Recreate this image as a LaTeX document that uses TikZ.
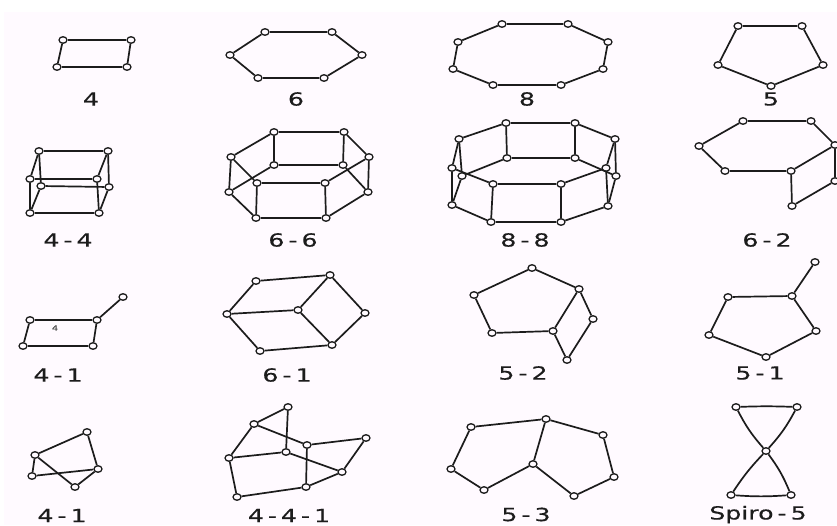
\documentclass[tikz,border=0pt]{standalone}
\usepackage{fontspec}
\usetikzlibrary{shapes.geometric}
\newfontfamily\labfont[FakeStretch=1.4,FakeBold=0.4]{DejaVu Sans}
\definecolor{paper}{HTML}{FFFAFF}
\definecolor{ink}{HTML}{1C1C1C}
\tikzset{
  v/.style={ellipse,draw=ink,fill=paper,line width=1.3pt,minimum width=8pt,minimum height=6.5pt,inner sep=0pt},
  e/.style={draw=ink,line width=1.7pt},
  lab/.style={font=\labfont\fontsize{18}{18}\selectfont,text=ink,inner sep=0pt,anchor=center},
  tiny label/.style={font=\labfont\fontsize{7}{7}\selectfont,text=ink!80,inner sep=0pt}
}
\newcommand{\verts}[1]{\foreach \n/\x/\y in {#1} \node[v] (\n) at (\x,\y) {};}
\newcommand{\edges}[1]{\foreach \a/\b in {#1} \draw[e] (\a) -- (\b);}
\newcommand{\dsh}{\hspace{4pt}-\hspace{4pt}}
\begin{document}
\begin{tikzpicture}[x=1pt,y=-1pt]
\useasboundingbox (0,0) rectangle (837,525);
\fill[white] (0,0) rectangle (837,525);
\fill[paper] (4,12) rectangle (837,525);
% row 1
\verts{a1/63/40,a2/131/40,a3/127/67,a4/57/67}
\edges{a1/a2,a2/a3,a3/a4,a4/a1}
\verts{b1/265/32,b2/332/32,b3/362/55,b4/324/78,b5/258/78,b6/230/55}
\edges{b1/b2,b2/b3,b3/b4,b4/b5,b5/b6,b6/b1}
\verts{c1/502/24,c2/568/24,c3/608/42,c4/603/69,c5/561/85,c6/493/85,c7/453/69,c8/458/42}
\edges{c1/c2,c2/c3,c3/c4,c4/c5,c5/c6,c6/c7,c7/c8,c8/c1}
\verts{d1/738/26,d2/802/26,d3/823/65,d4/771/86,d5/718/65}
\edges{d1/d2,d2/d3,d3/d4,d4/d5,d5/d1}
\node[lab] (la) at (91,99) {4};
\node[lab] (lb) at (296,99) {6};
\node[lab] (lc) at (527,99) {8};
\node[lab] (ld) at (771,99) {5};
% row 2
\verts{e1/39/151,e2/108/151,e3/97/179,e4/30/179,e5/41/186,e6/109/187,e7/99/213,e8/30/213}
\edges{e1/e2,e2/e3,e3/e4,e4/e1,e5/e6,e6/e7,e7/e8,e8/e5,e1/e5,e2/e6,e3/e7,e4/e8}
\verts{f1/274/132,f2/344/132,f3/369/157,f4/325/183,f5/257/183,f6/231/157,f7/274/165,f8/343/165,f9/368/192,f10/326/218,f11/256/218,f12/229/192}
\edges{f7/f8,f8/f9,f9/f10,f10/f11,f11/f12,f12/f7,f1/f2,f2/f3,f3/f4,f4/f5,f5/f6,f6/f1,f1/f7,f2/f8,f3/f9,f4/f10,f5/f11,f6/f12}
\verts{g1/506/123,g2/575/123,g3/615/139,g4/606/168,g5/561/184,g6/493/184,g7/452/168,g8/459/139,g9/507/158,g10/575/158,g11/616/176,g12/608/206,g13/561/222,g14/491/222,g15/452/205,g16/462/176}
\edges{g9/g10,g10/g11,g11/g12,g12/g13,g13/g14,g14/g15,g15/g16,g16/g9,g1/g2,g2/g3,g3/g4,g4/g5,g5/g6,g6/g7,g7/g8,g8/g1,g1/g9,g2/g10,g3/g11,g4/g12,g5/g13,g6/g14,g7/g15,g8/g16}
\verts{h1/743/121,h2/811/121,h3/835/145,h4/791/171,h5/725/171,h6/699/146,h7/792/206,h8/835/181}
\edges{h1/h2,h2/h3,h3/h4,h4/h5,h5/h6,h6/h1,h4/h7,h7/h8,h3/h8}
\node[lab] (le) at (68,240) {4\dsh 4};
\node[lab] (lf) at (293,240) {6\dsh 6};
\node[lab] (lg) at (525,240) {8\dsh 8};
\node[lab] (lh) at (767,240) {6\dsh 2};
% row 3
\verts{i1/30/320,i2/97/320,i3/93/346,i4/23/346,i5/123/297}
\edges{i1/i2,i2/i3,i3/i4,i4/i1,i2/i5}
\node[tiny label] (li0) at (55,328) {4};
\verts{j1/256/281,j2/330/275,j3/365/313,j4/332/345,j5/260/351,j6/227/314,j7/298/310}
\edges{j1/j2,j2/j3,j3/j4,j4/j5,j5/j6,j6/j1,j6/j7,j7/j2,j7/j4}
\verts{k1/532/268,k2/579/289,k3/553/331,k4/492/333,k5/474/295,k6/593/319,k7/567/360}
\edges{k1/k2,k2/k3,k3/k4,k4/k5,k5/k1,k2/k6,k6/k7,k7/k3}
\verts{m1/792/296,m2/816/331,m3/766/357,m4/709/335,m5/728/297,m6/815/262}
\edges{m1/m2,m2/m3,m3/m4,m4/m5,m5/m1,m1/m6}
\node[lab] (li) at (58,375) {4\dsh 1};
\node[lab] (lj) at (287,375) {6\dsh 1};
\node[lab] (lk) at (523,373) {5\dsh 2};
\node[lab] (lm) at (760,373) {5\dsh 1};
% row 4
\verts{n1/87/432,n2/98/469,n3/75/487,n4/35/455,n5/32/476}
\edges{n4/n1,n1/n2,n2/n3,n3/n4,n4/n5,n5/n2}
\verts{p1/288/407,p2/254/424,p3/229/458,p4/286/452,p5/307/445,p6/366/438,p7/342/472,p8/306/487,p9/237/497}
\edges{p1/p2,p1/p4,p2/p3,p3/p4,p3/p9,p9/p8,p8/p5,p5/p6,p6/p7,p7/p8,p4/p7,p2/p5}
\verts{q1/471/427,q2/546/419,q3/603/435,q4/614/477,q5/574/496,q6/533/464,q7/484/490,q8/451/469}
\edges{q1/q2,q2/q3,q3/q4,q4/q5,q5/q6,q6/q7,q7/q8,q8/q1,q2/q6}
\verts{r1/736/407,r2/797/407,r3/766/451,r4/731/495,r5/791/495}
\draw[e] (r1) to[bend left=2] (r2);
\draw[e] (r4) to[bend right=4] (r5);
\draw[e] (r1) to[bend right=7] (r3);
\draw[e] (r2) to[bend left=7] (r3);
\draw[e] (r3) to[bend right=5] (r4);
\draw[e] (r3) to[bend left=7] (r5);
\node[lab] (ln) at (62,515.5) {4\dsh 1};
\node[lab] (lp) at (289,515.5) {4\dsh 4\dsh 1};
\node[lab] (lq) at (526,514.5) {5\dsh 3};
\node[lab] (lr) at (758,514.5) {Spiro\dsh 5};
\end{tikzpicture}
\end{document}
